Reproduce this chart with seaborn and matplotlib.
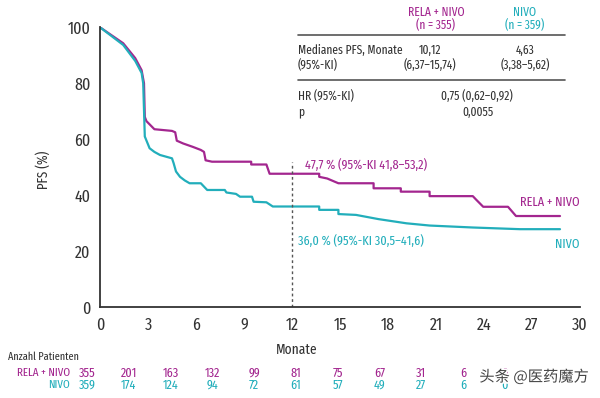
import pandas as pd
import seaborn as sns
import matplotlib.pyplot as plt
import matplotlib.patheffects as pe
from matplotlib import font_manager as fm

# Kaplan-Meier curves: vertices of each curve (months, PFS %)
rela_t = [0, 1.45, 2.2, 2.6, 2.75, 2.8, 2.9, 3.4, 4.5, 4.7, 4.8, 5.2, 5.8, 6.3, 6.5,
          6.6, 7.0, 9.45, 9.45, 10.4, 10.6, 13.7, 13.7, 14.2, 14.9, 17.1, 17.1, 18.8,
          18.8, 20.6, 20.6, 23.3, 23.5, 23.95, 25.5, 26.0, 28.75]
rela_s = [100, 94.3, 89, 84.7, 80, 68, 66.5, 63.6, 63, 62.5, 59.5, 58.5, 57.3, 56.2, 55.5,
          52.5, 52.0, 52.0, 51.0, 51.0, 47.7, 47.7, 46.6, 46.0, 44.3, 44.3, 42.5, 42.5,
          41.3, 41.3, 39.7, 39.7, 38.5, 35.9, 35.9, 32.6, 32.6]

nivo_t = [0, 1.45, 2.2, 2.6, 2.7, 2.8, 3.1, 3.4, 3.75, 4.5, 4.6, 4.75, 5.0, 5.3, 5.6,
          6.3, 6.7, 7.8, 7.9, 8.5, 8.75, 9.5, 9.6, 10.4, 10.8, 13.7, 13.7, 14.9, 14.9,
          16.0, 17.4, 19.15, 20.6, 23.3, 26.25, 28.75]
nivo_s = [100, 93.7, 88, 83.7, 80, 61, 56.8, 55.5, 54.4, 53.2, 51.5, 48.5, 46.6, 45.3, 44.3,
          44.3, 41.9, 41.9, 41.0, 40.5, 39.5, 39.5, 37.7, 37.5, 36.0, 36.0, 34.8, 34.8, 33.3,
          33.0, 31.5, 30.0, 29.2, 28.5, 27.9, 27.9]

# patients at risk
risk_months = [0, 3, 6, 9, 12, 15, 18, 21, 24, 27, 30]
risk_rela = [355, 201, 163, 132, 99, 81, 75, 67, 31, 6, 0]
risk_nivo = [359, 174, 124, 94, 72, 61, 57, 49, 27, 6, 0]

groups = ["RELA + NIVO", "NIVO"]
MAG = "#a3268f"
CYA = "#22aebb"
palette = {"RELA + NIVO": MAG, "NIVO": CYA}
GREY = "#333333"

W, H = 600, 398


def px(x, y):
    return x / W, 1 - y / H


sns.set_style("white")
avail = {f.name for f in fm.fontManager.ttflist}
narrow = [n for n in ["Fira Sans Extra Condensed", "Fira Sans Condensed", "Archivo Narrow"]
          if n in avail]
plt.rcParams["font.family"] = (narrow[:1] or ["Liberation Sans"]) + ["DejaVu Sans"]

df = pd.concat([
    pd.DataFrame({"Monate": rela_t, "PFS": rela_s, "Arm": groups[0]}),
    pd.DataFrame({"Monate": nivo_t, "PFS": nivo_s, "Arm": groups[1]}),
])

fig = plt.figure(figsize=(W / 100, H / 100), dpi=100)
ax = fig.add_axes([100 / W, (H - 307.3) / H, 480 / W, 280 / H])

sns.lineplot(data=df, x="Monate", y="PFS", hue="Arm", palette=palette,
             estimator=None, sort=False, linewidth=1.6, legend=False, ax=ax)

ax.plot([12, 12], [0, 52], color="#555555", lw=1, ls=(0, (2, 2)))

ax.set_xlim(0, 30)
ax.set_ylim(0, 100)
ax.set_xticks(range(0, 31, 3))
ax.set_yticks(range(0, 101, 20))
ax.set_xlabel("")
ax.set_ylabel("")
for side in ["top", "right"]:
    ax.spines[side].set_visible(False)
for side in ["left", "bottom"]:
    ax.spines[side].set_color(GREY)
    ax.spines[side].set_linewidth(1.3)
ax.tick_params(axis="both", direction="out", length=5, width=1.3, color=GREY,
               labelsize=12.5, labelcolor=GREY, pad=2)

# curve annotations
ax.text(12.8, 50.8, "47,7 % (95%-KI 41,8–53,2)", color=MAG, fontsize=9.5, va="center")
ax.text(12.4, 23.8, "36,0 % (95%-KI 30,5–41,6)", color=CYA, fontsize=9.5, va="center")
ax.text(30, 37.5, "RELA + NIVO", color=MAG, fontsize=9.5, ha="right", va="center")
ax.text(30, 22.5, "NIVO", color=CYA, fontsize=9.5, ha="right", va="center")

fig.text(*px(43, 170), "PFS (%)", rotation=90, ha="center", va="center",
         fontsize=10, color=GREY)
fig.text(*px(297, 350), "Monate", ha="center", va="center", fontsize=10.5, color=GREY)

# summary table
tk = dict(fontsize=9, color=GREY, va="center")
fig.text(*px(436, 12), "RELA + NIVO", ha="center", **{**tk, "color": MAG})
fig.text(*px(436, 25), "(n = 355)", ha="center", **{**tk, "color": MAG})
fig.text(*px(525, 12), "NIVO", ha="center", **{**tk, "color": CYA})
fig.text(*px(525, 25), "(n = 359)", ha="center", **{**tk, "color": CYA})
for yl in (35, 80):
    fig.add_artist(plt.Line2D([298 / W, 565 / W], [1 - yl / H] * 2,
                              color="#555555", lw=1.2))
fig.text(*px(298, 50), "Medianes PFS, Monate", ha="left", **tk)
fig.text(*px(298, 65), "(95%-KI)", ha="left", **tk)
fig.text(*px(430, 50), "10,12", ha="center", **tk)
fig.text(*px(430, 65), "(6,37–15,74)", ha="center", **tk)
fig.text(*px(525, 50), "4,63", ha="center", **tk)
fig.text(*px(525, 65), "(3,38–5,62)", ha="center", **tk)
fig.text(*px(298, 96), "HR (95%-KI)", ha="left", **tk)
fig.text(*px(298, 112), "p", ha="left", **tk)
fig.text(*px(477, 96), "0,75 (0,62–0,92)", ha="center", **tk)
fig.text(*px(478, 112), "0,0055", ha="center", **tk)

# numbers at risk, on their own compressed month scale
rax = fig.add_axes([87 / W, (H - 391) / H, 418 / W, 24 / H])
rax.set_xlim(0, 30)
rax.set_ylim(0, 2)
rax.axis("off")
for m, a, b in zip(risk_months, risk_rela, risk_nivo):
    rax.text(m, 1.5, str(a), color=MAG, ha="center", va="center", fontsize=9.5)
    rax.text(m, 0.5, str(b), color=CYA, ha="center", va="center", fontsize=9.5)

fig.text(*px(8, 357), "Anzahl Patienten", ha="left", va="center", fontsize=8, color=GREY)
fig.text(*px(70, 373), "RELA + NIVO", ha="right", va="center", fontsize=8.5, color=MAG)
fig.text(*px(70, 385), "NIVO", ha="right", va="center", fontsize=8.5, color=CYA)

# watermark
fig.text(*px(534, 377), "头条 @医药魔方", ha="center", va="center", fontsize=11,
         color="#444444", family=["Noto Sans CJK SC", "DejaVu Sans"],
         path_effects=[pe.withStroke(linewidth=2.5, foreground="white")])

fig.savefig("out.png", dpi=100, facecolor="white")
